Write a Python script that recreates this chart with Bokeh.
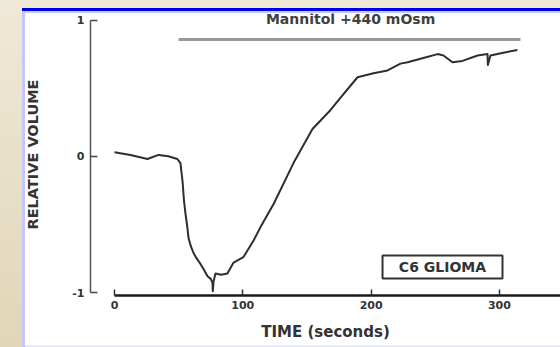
from bokeh.plotting import figure
from bokeh.models import FixedTicker, Label, BoxAnnotation, Range1d
from bokeh.embed import file_html
from bokeh.resources import INLINE

# ---- data ----
time_s = [0, 12.5, 25.7, 34.3, 42, 49, 51.4, 53, 54.2, 55.3, 56.5, 57.7, 59.5, 61.6,
          64, 67, 69.5, 72.5, 75, 76.4, 76.6, 77.2, 78.7, 83, 88, 92.8, 100.5, 108.3,
          113.8, 124, 139.5, 154.3, 168.4, 176.2, 189.4, 201.9, 212.8, 222.9, 228.4,
          240, 251.8, 256.4, 263.4, 271.2, 283, 290.7, 291, 293, 303, 314]
rel_volume = [0.03, 0.01, -0.02, 0.01, 0.0, -0.02, -0.05, -0.18, -0.33, -0.42, -0.50, -0.60, -0.66, -0.71,
              -0.75, -0.79, -0.83, -0.88, -0.90, -0.93, -0.99, -0.92, -0.86, -0.87, -0.86, -0.78, -0.74, -0.62,
              -0.52, -0.35, -0.05, 0.20, 0.34, 0.43, 0.58, 0.61, 0.63, 0.68, 0.69,
              0.72, 0.75, 0.74, 0.69, 0.70, 0.74, 0.75, 0.67, 0.74, 0.76, 0.78]

mannitol_start = 49.9
mannitol_end = 316.4
mannitol_level = 0.857
mannitol_text = "Mannitol +440 mOsm"
cell_line = "C6 GLIOMA"

x_ticks = [0, 100, 200, 300]
y_ticks = [-1, 0, 1]
y_tick_labels = ["-1", "0", "1"]
x_title = "TIME (seconds)"
y_title = "RELATIVE VOLUME"

FONT = "DejaVu Sans"

p = figure(width=560, height=347, output_backend="svg", toolbar_location=None,
           x_range=Range1d(-18.7, 347.6), y_range=Range1d(-1.022, 1.048),
           min_border_left=90, min_border_right=0, min_border_top=13, min_border_bottom=52,
           border_fill_color=None, background_fill_color=None, outline_line_color=None)

p.styles = {
    "background": (
        "linear-gradient(#ffffff,#ffffff) 25px 13px / 535px 332px no-repeat,"
        "linear-gradient(#0000e0,#0000e0) 22px 8px / 538px 3px no-repeat,"
        "linear-gradient(#e8e8ff,#e8e8ff) 25px 345px / 535px 2px no-repeat,"
        "linear-gradient(#c6c6ff,#c6c6ff) 22px 11px / 538px 336px no-repeat,"
        "linear-gradient(to bottom, #efe9d7, #e0d6b8) 0 0 / 100% 100% no-repeat"
    )
}

p.xgrid.visible = False
p.ygrid.visible = False

# x axis
xa = p.xaxis[0]
xa.ticker = FixedTicker(ticks=x_ticks, minor_ticks=[])
xa.bounds = (0, 347.6)
xa.axis_line_color = "#1a1a1a"
xa.axis_line_width = 2.5
xa.major_tick_in = 6
xa.major_tick_out = 0
xa.major_tick_line_color = "#333333"
xa.major_tick_line_width = 1.5
xa.major_label_standoff = 5
xa.major_label_text_font = FONT
xa.major_label_text_font_size = "11px"
xa.major_label_text_font_style = "bold"
xa.major_label_text_color = "#333333"
xa.axis_label = x_title
xa.axis_label_standoff = 11
xa.axis_label_text_font = FONT
xa.axis_label_text_font_size = "15px"
xa.axis_label_text_font_style = "bold"
xa.axis_label_text_color = "#333333"

# y axis
ya = p.yaxis[0]
ya.ticker = FixedTicker(ticks=y_ticks, minor_ticks=[])
ya.major_label_overrides = {t: s for t, s in zip(y_ticks, y_tick_labels)}
ya.bounds = (-1, 1)
ya.axis_line_color = "#555555"
ya.axis_line_width = 1.5
ya.major_tick_in = 7
ya.major_tick_out = 0
ya.major_tick_line_color = "#444444"
ya.major_tick_line_width = 1.5
ya.major_label_standoff = 6
ya.major_label_text_font = FONT
ya.major_label_text_font_size = "11px"
ya.major_label_text_font_style = "bold"
ya.major_label_text_color = "#333333"
ya.axis_label = y_title
ya.axis_label_standoff = 28
ya.axis_label_text_font = FONT
ya.axis_label_text_font_size = "14.5px"
ya.axis_label_text_font_style = "bold"
ya.axis_label_text_color = "#333333"

# mannitol bar
p.segment(x0=[mannitol_start], y0=[mannitol_level], x1=[mannitol_end], y1=[mannitol_level],
          line_color="#9a9a9a", line_width=3)
p.add_layout(Label(x=184, y=1.004, text=mannitol_text, text_align="center", text_baseline="middle",
                   text_font=FONT, text_font_size="14px", text_font_style="bold",
                   text_color="#404040"))

# curve
p.line(time_s, rel_volume, line_color="#2e2e2e", line_width=2, line_join="round")

# cell line box
p.add_layout(BoxAnnotation(left=208.9, right=302.4, top=-0.729, bottom=-0.897,
                           fill_color=None, fill_alpha=0, line_color="#333333", line_alpha=1.0,
                           line_width=2))
p.add_layout(Label(x=255.6, y=-0.815, text=cell_line, text_align="center", text_baseline="middle",
                   text_font=FONT, text_font_size="14px", text_font_style="bold",
                   text_color="#333333"))

open("out.html", "w").write(file_html(p, INLINE))
